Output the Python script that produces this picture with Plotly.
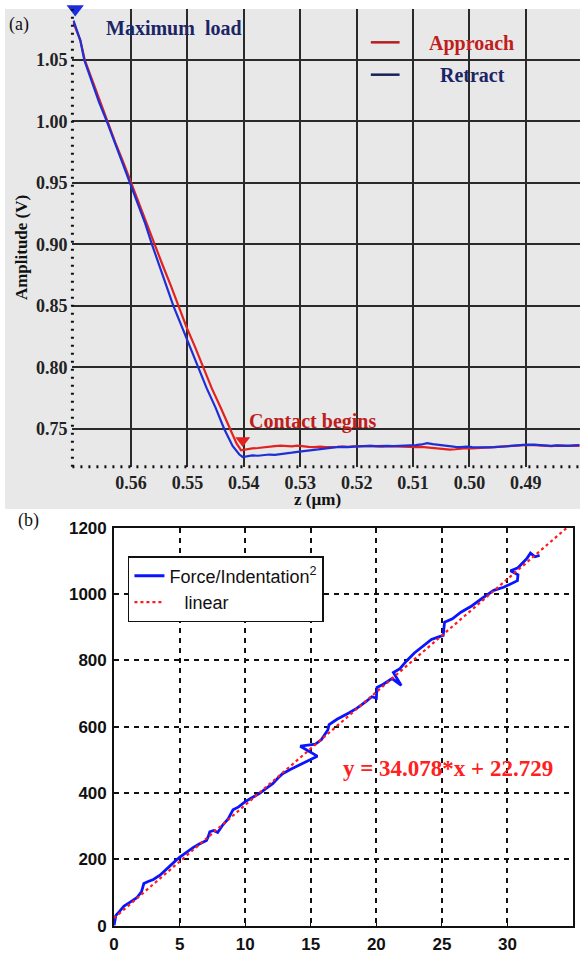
import plotly.graph_objects as go

W, H = 580, 967

# ---------------- Panel (a) data ----------------
app_z = [0.5702, 0.5690, 0.5682, 0.5670, 0.5655, 0.5642, 0.5628, 0.5614, 0.5600, 0.5586,
         0.5572, 0.5558, 0.5544, 0.5530, 0.5516, 0.5502, 0.5487, 0.5472, 0.5457, 0.5441,
         0.5425, 0.5413, 0.5405,
         0.5395, 0.5385, 0.5375, 0.5365, 0.5355, 0.5345, 0.5335, 0.5325, 0.5315, 0.5305,
         0.5295, 0.5285, 0.5275, 0.5265, 0.5255, 0.5245, 0.5235, 0.5225, 0.5215, 0.5205,
         0.5195, 0.5185, 0.5175, 0.5165, 0.5155, 0.5145, 0.5135, 0.5125, 0.5115, 0.5105,
         0.5095, 0.5085, 0.5075, 0.5065, 0.5055, 0.5045, 0.5035, 0.5025, 0.5015, 0.5005,
         0.4995, 0.4985, 0.4975, 0.4965, 0.4955, 0.4945, 0.4935, 0.4925, 0.4915, 0.4905,
         0.4895, 0.4885, 0.4875, 0.4865, 0.4855, 0.4845, 0.4835, 0.4825, 0.4815, 0.4805]
app_v = [1.080, 1.066, 1.050, 1.035, 1.017, 1.000, 0.983, 0.967, 0.950, 0.933,
         0.917, 0.900, 0.883, 0.867, 0.850, 0.833, 0.817, 0.800, 0.783, 0.767,
         0.750, 0.738, 0.7325,
         0.7335, 0.7340, 0.7343, 0.7350, 0.7352, 0.7358, 0.7362, 0.7360, 0.7357, 0.7362,
         0.7355, 0.7352, 0.7350, 0.7354, 0.7351, 0.7349, 0.7353, 0.7355, 0.7352, 0.7356,
         0.7358, 0.7355, 0.7360, 0.7357, 0.7354, 0.7358, 0.7356, 0.7352, 0.7355, 0.7353,
         0.7350, 0.7352, 0.7348, 0.7345, 0.7338, 0.7332, 0.7330, 0.7333, 0.7338, 0.7342,
         0.7340, 0.7343, 0.7345, 0.7348, 0.7346, 0.7350, 0.7355, 0.7358, 0.7362, 0.7365,
         0.7368, 0.7366, 0.7362, 0.7360, 0.7358, 0.7362, 0.7360, 0.7358, 0.7362, 0.7360]

ret_z = [0.5702, 0.5690, 0.5683, 0.5671, 0.5657, 0.5643, 0.5629, 0.5615, 0.5601, 0.5587,
         0.5575, 0.5563, 0.5550, 0.5537, 0.5525, 0.5510, 0.5496, 0.5481, 0.5466, 0.5450,
         0.5435, 0.5420, 0.5408, 0.5402,
         0.5395, 0.5385, 0.5375, 0.5365, 0.5355, 0.5345, 0.5335, 0.5325, 0.5315, 0.5305,
         0.5295, 0.5285, 0.5275, 0.5265, 0.5255, 0.5245, 0.5235, 0.5225, 0.5215, 0.5205,
         0.5195, 0.5185, 0.5175, 0.5165, 0.5155, 0.5145, 0.5135, 0.5125, 0.5115, 0.5105,
         0.5095, 0.5085, 0.5075, 0.5065, 0.5055, 0.5045, 0.5035, 0.5025, 0.5015, 0.5005,
         0.4995, 0.4985, 0.4975, 0.4965, 0.4955, 0.4945, 0.4935, 0.4925, 0.4915, 0.4905,
         0.4895, 0.4885, 0.4875, 0.4865, 0.4855, 0.4845, 0.4835, 0.4825, 0.4815, 0.4805]
ret_v = [1.082, 1.066, 1.050, 1.034, 1.016, 1.000, 0.983, 0.966, 0.950, 0.933,
         0.917, 0.900, 0.883, 0.867, 0.850, 0.833, 0.817, 0.800, 0.783, 0.767,
         0.750, 0.736, 0.729, 0.727,
         0.7275, 0.7283, 0.7280, 0.7285, 0.7290, 0.7288, 0.7292, 0.7298, 0.7305, 0.7312,
         0.7318, 0.7325, 0.7330, 0.7336, 0.7342, 0.7347, 0.7350, 0.7353, 0.7350, 0.7355,
         0.7358, 0.7356, 0.7360, 0.7358, 0.7362, 0.7360, 0.7358, 0.7360, 0.7358, 0.7362,
         0.7366, 0.7372, 0.7382, 0.7375, 0.7368, 0.7360, 0.7356, 0.7352, 0.7350, 0.7354,
         0.7350, 0.7348, 0.7345, 0.7348, 0.7350, 0.7352, 0.7356, 0.7360, 0.7364, 0.7368,
         0.7372, 0.7370, 0.7366, 0.7362, 0.7360, 0.7364, 0.7362, 0.7360, 0.7365, 0.7366]

max_load_pt = ([0.5699], [1.0915])
contact_pt = ([0.5402], [0.7405])

a_xticks = [0.56, 0.55, 0.54, 0.53, 0.52, 0.51, 0.50, 0.49]
a_xlabels = ["0.56", "0.55", "0.54", "0.53", "0.52", "0.51", "0.50", "0.49"]
a_yticks = [0.75, 0.80, 0.85, 0.90, 0.95, 1.00, 1.05]
a_ylabels = ["0.75", "0.80", "0.85", "0.90", "0.95", "1.00", "1.05"]

# ---------------- Panel (b) data ----------------
fi_x = [0, 0.13, 0.4, 0.76, 1.2, 1.74, 2.1, 2.2, 2.27, 2.6, 3.0, 3.5, 4.0, 4.28, 4.7, 5.04,
        5.5, 6.05, 6.5, 7.05, 7.2, 7.3, 7.6, 7.9, 8.3, 8.7, 9.07, 9.5, 10.05, 10.6, 11.1,
        11.6, 12.1, 12.5, 12.85, 13.4, 14.0, 14.36, 15.0, 15.5, 14.2, 15.35, 15.8, 16.1,
        16.3, 16.4, 17.0, 17.9, 18.5, 19.2, 19.65, 20.0, 20.05, 20.5, 21.2, 21.9, 21.3,
        21.8, 22.3, 22.9, 23.5, 24.2, 24.7, 25.1, 25.2, 25.8, 26.45, 27.2, 27.97, 28.5,
        28.95, 29.7, 30.23, 30.76, 30.8, 30.23, 30.8, 31.2, 31.5, 31.75, 32.1, 32.45]
fi_y = [0, 30, 42, 59, 70, 84, 103, 115, 127, 133, 139, 152, 170, 183, 196, 207,
        221, 236, 246, 257, 270, 283, 287, 281, 304, 322, 349, 358, 375, 388, 399,
        414, 428, 445, 458, 470, 482, 488, 500, 511, 541, 547, 560, 576,
        590, 606, 622, 641, 655, 675, 690, 686, 718, 727, 745, 724, 763,
        775, 798, 822, 840, 863, 870, 875, 915, 925, 945, 962, 984, 998,
        1011, 1020, 1029, 1040, 1058, 1070, 1079, 1095, 1108, 1123, 1112, 1116]

lin_x = [0, 35]
lin_y = [22.729, 1215.459]

b_xticks = [0, 5, 10, 15, 20, 25, 30, 35]
b_yticks = [0, 200, 400, 600, 800, 1000, 1200]

# ---------------- geometry helpers ----------------
def px(x):
    return x / W

def py(y):
    return 1 - y / H

SERIF = "Liberation Serif, Times New Roman, serif"
SANS = "Liberation Sans, Arial, sans-serif"
RED = "#e3221f"
BLUE = "#1f2fd6"
NAVY = "#1b2566"
DRED = "#c01d1d"

fig = go.Figure()

fig.add_trace(go.Scatter(x=app_z, y=app_v, mode="lines", line=dict(color=RED, width=2.2),
                         xaxis="x", yaxis="y", showlegend=False, name="Approach"))
fig.add_trace(go.Scatter(x=ret_z, y=ret_v, mode="lines", line=dict(color=BLUE, width=2.2),
                         xaxis="x", yaxis="y", showlegend=False, name="Retract"))
fig.add_trace(go.Scatter(x=max_load_pt[0], y=max_load_pt[1], mode="markers",
                         marker=dict(symbol="triangle-down", size=15, color="#1a2ee0"),
                         xaxis="x", yaxis="y", showlegend=False, cliponaxis=False))
fig.add_trace(go.Scatter(x=contact_pt[0], y=contact_pt[1], mode="markers",
                         marker=dict(symbol="triangle-down", size=13, color="#e3221f"),
                         xaxis="x", yaxis="y", showlegend=False, cliponaxis=False))

fig.add_trace(go.Scatter(x=fi_x, y=fi_y, mode="lines", line=dict(color="#0a14ff", width=2.8),
                         xaxis="x2", yaxis="y2", name="Force/Indentation<sup>2</sup>",
                         legend="legend"))
fig.add_trace(go.Scatter(x=lin_x, y=lin_y, mode="lines",
                         line=dict(color="#ff1a1a", width=2.2, dash="dot"),
                         xaxis="x2", yaxis="y2", name="&nbsp;&nbsp;&nbsp;linear",
                         legend="legend", cliponaxis=True))

shapes = []
# gray background of panel (a)
shapes.append(dict(type="rect", xref="paper", yref="paper", x0=0, x1=1, y0=py(510), y1=1,
                   fillcolor="#e8e8e8", line=dict(width=0), layer="below"))
# dotted axis lines of panel (a)
shapes.append(dict(type="line", xref="paper", yref="paper", x0=px(68), x1=px(68), y0=py(467), y1=1,
                   line=dict(color="#111", width=3, dash="2px,6px")))
shapes.append(dict(type="line", xref="paper", yref="paper", x0=px(68), x1=1, y0=py(467), y1=py(467),
                   line=dict(color="#111", width=3, dash="2px,6px")))
# legend samples panel (a)
shapes.append(dict(type="line", xref="paper", yref="paper", x0=px(369), x1=px(398), y0=py(34), y1=py(34),
                   line=dict(color="#b3201f", width=2.5)))
shapes.append(dict(type="line", xref="paper", yref="paper", x0=px(369), x1=px(398), y0=py(67), y1=py(67),
                   line=dict(color="#1a1f55", width=2.5)))

annotations = [
    dict(text="(a)", x=px(2), y=py(16), xref="paper", yref="paper", xanchor="left", yanchor="middle",
         showarrow=False, font=dict(family=SERIF, size=18, color="#111")),
    dict(text="(b)", x=px(11), y=py(522), xref="paper", yref="paper", xanchor="left", yanchor="middle",
         showarrow=False, font=dict(family=SERIF, size=18, color="#111")),
    dict(text="<b>Maximum  load</b>", x=px(100), y=py(19), xref="paper", yref="paper", xanchor="left",
         yanchor="middle", showarrow=False, font=dict(family=SERIF, size=20, color=NAVY)),
    dict(text="<b>Approach</b>", x=px(426), y=py(35), xref="paper", yref="paper", xanchor="left",
         yanchor="middle", showarrow=False, font=dict(family=SERIF, size=20, color=DRED)),
    dict(text="<b>Retract</b>", x=px(437), y=py(67), xref="paper", yref="paper", xanchor="left",
         yanchor="middle", showarrow=False, font=dict(family=SERIF, size=20, color=NAVY)),
    dict(text="<b>Contact begins</b>", x=px(244), y=py(421), xref="paper", yref="paper", xanchor="left",
         yanchor="middle", showarrow=False, font=dict(family=SERIF, size=20, color=DRED)),
    dict(text="<b>Amplitude (V)</b>", x=px(16), y=py(243), xref="paper", yref="paper", xanchor="center",
         yanchor="middle", textangle=-90, showarrow=False, font=dict(family=SERIF, size=17, color="#111")),
    dict(text="<b>z (µm)</b>", x=px(315), y=py(500), xref="paper", yref="paper", xanchor="center",
         yanchor="middle", showarrow=False, font=dict(family=SERIF, size=17, color="#111")),
    dict(text="<b>y = 34.078*x + 22.729</b>", x=25.5, y=473, xref="x2", yref="y2", xanchor="center",
         yanchor="middle", showarrow=False, font=dict(family=SERIF, size=23, color="#ff2020")),
]

fig.update_layout(
    width=W, height=H,
    margin=dict(l=0, r=0, t=0, b=0),
    paper_bgcolor="white",
    plot_bgcolor="rgba(0,0,0,0)",
    shapes=shapes,
    annotations=annotations,
    xaxis=dict(domain=[px(68), 1.0], anchor="y", range=[0.5704, 0.4804], tickvals=a_xticks,
               ticktext=["<b>%s</b>" % t for t in a_xlabels],
               showgrid=True, gridcolor="#2a2a2a", gridwidth=1.6, zeroline=False, showline=False,
               ticks="", tickfont=dict(family=SERIF, size=18, color="#222"),
               ticklabelstandoff=3),
    yaxis=dict(domain=[py(467), 1.0], anchor="x", range=[0.719, 1.0915], tickvals=a_yticks,
               ticktext=["<b>%s</b>" % t for t in a_ylabels],
               showgrid=True, gridcolor="#2a2a2a", gridwidth=1.6, zeroline=False, showline=False,
               ticks="", tickfont=dict(family=SERIF, size=18, color="#222"),
               ticklabelstandoff=4),
    xaxis2=dict(domain=[px(110), px(573)], anchor="y2", range=[0, 35], tickvals=b_xticks,
                showgrid=True, gridcolor="#111", gridwidth=1.5, griddash="5px,5px", zeroline=False,
                showline=True, linecolor="#111", linewidth=1.8, mirror=True,
                ticks="inside", ticklen=4, tickcolor="#111",
                tickfont=dict(family=SANS, size=17, color="#111", weight="bold"), ticklabelstandoff=2),
    yaxis2=dict(domain=[py(935), py(529)], anchor="x2", range=[0, 1200], tickvals=b_yticks,
                showgrid=True, gridcolor="#111", gridwidth=1.5, griddash="5px,5px", zeroline=False,
                showline=True, linecolor="#111", linewidth=1.8, mirror=True,
                ticks="inside", ticklen=4, tickcolor="#111",
                tickfont=dict(family=SANS, size=17, color="#111", weight="bold"), ticklabelstandoff=2),
    legend=dict(x=px(124), y=py(558), xanchor="left", yanchor="top", bgcolor="white",
                bordercolor="#111", borderwidth=1.5, font=dict(family=SANS, size=18, color="#111"),
                tracegroupgap=0, itemwidth=30),
)

fig.write_html("out.html")
